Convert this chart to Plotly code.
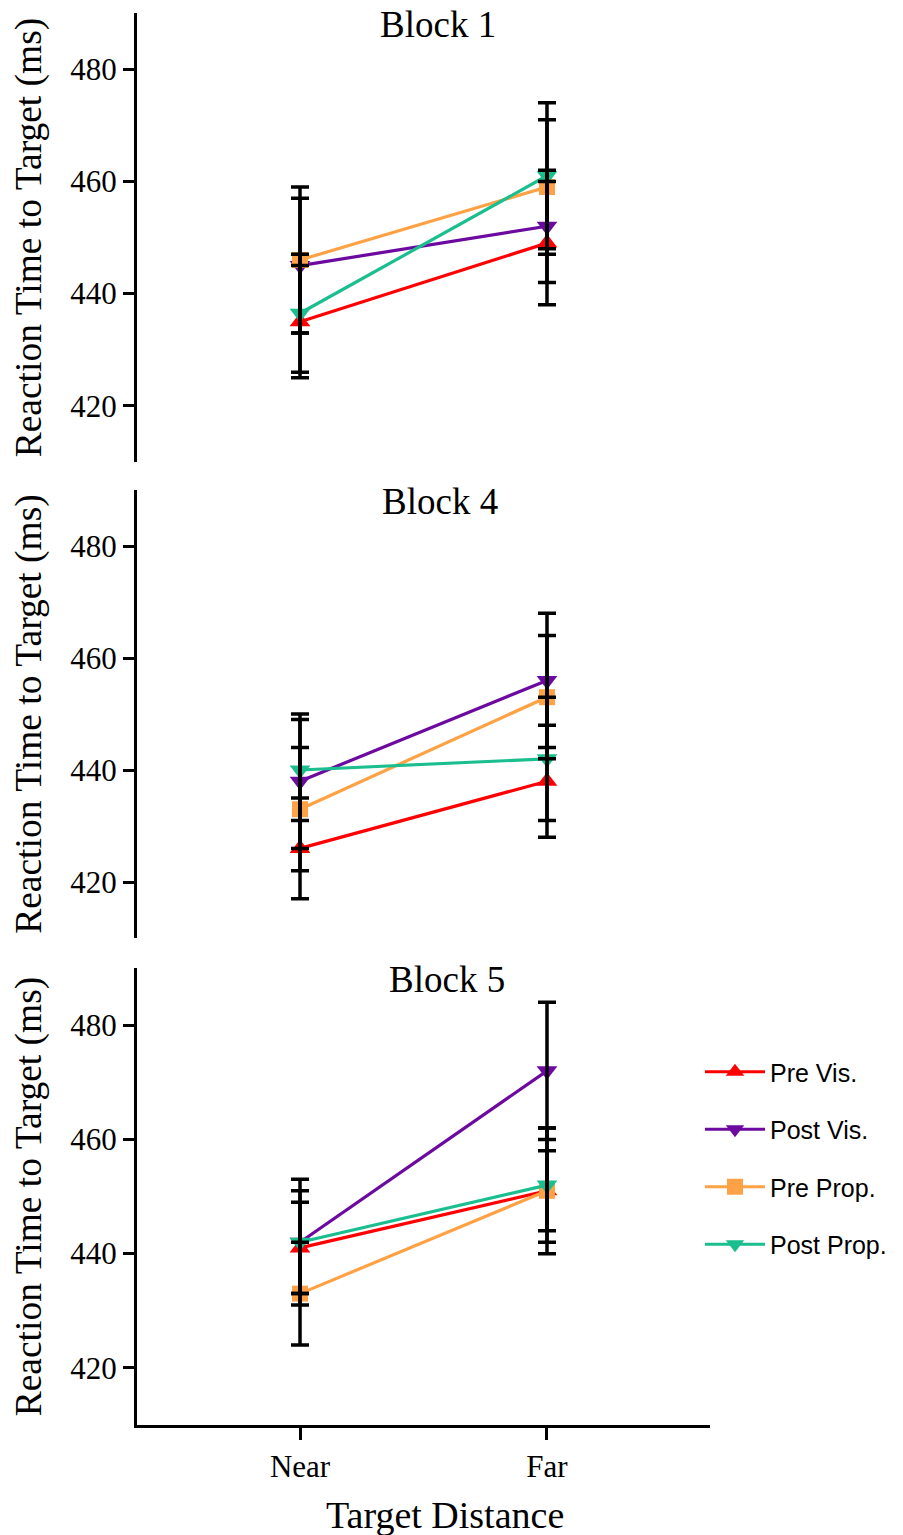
import plotly.graph_objects as go

distance = ["Near", "Far"]
conditions = ["Pre Vis.", "Post Vis.", "Pre Prop.", "Post Prop."]
blocks = ["Block 1", "Block 4", "Block 5"]

# means [Near, Far] and error (half-length) per condition, per block
b1_mean = {"Pre Vis.": [435, 449], "Post Vis.": [445, 452], "Pre Prop.": [446, 459], "Post Prop.": [436.5, 461]}
b1_err = {"Pre Vis.": [10, 11], "Post Vis.": [12, 10], "Pre Prop.": [13, 12], "Post Prop.": [10.5, 13]}
b4_mean = {"Pre Vis.": [426, 438], "Post Vis.": [438, 456], "Pre Prop.": [433, 453], "Post Prop.": [440, 442]}
b4_err = {"Pre Vis.": [9, 10], "Post Vis.": [12, 12], "Pre Prop.": [11, 11], "Post Prop.": [9, 11]}
b5_mean = {"Pre Vis.": [441, 451], "Post Vis.": [442, 472], "Pre Prop.": [433, 451], "Post Prop.": [442, 452]}
b5_err = {"Pre Vis.": [8, 7], "Post Vis.": [11, 12], "Pre Prop.": [9, 11], "Post Prop.": [9, 10]}

y_ticks = [420, 440, 460, 480]

colors = {"Pre Vis.": "#FF0000", "Post Vis.": "#6C0AA0", "Pre Prop.": "#FFA245", "Post Prop.": "#1BBE8E"}
symbols = {"Pre Vis.": "triangle-up", "Post Vis.": "triangle-down", "Pre Prop.": "square", "Post Prop.": "triangle-down"}
msize = {"Pre Vis.": 18, "Post Vis.": 18, "Pre Prop.": 16, "Post Prop.": 18}

means = [b1_mean, b4_mean, b5_mean]
errs = [b1_err, b4_err, b5_err]

# pixel layout helpers (plot area 137..710 x, 13..1425 y)
W, H = 903, 1535
ml, mr, mt, mb = 137, 193, 13, 110
ph = H - mt - mb
def py(p):
    return (H - mb - p) / ph
def px(p):
    return (p - ml) / (W - ml - mr)

domains = [[py(462), 1.0], [py(938), py(490)], [0.0, py(968)]]

fig = go.Figure()
serif = "Liberation Serif"

for i in range(3):
    xa = "x" if i == 0 else f"x{i+1}"
    ya = "y" if i == 0 else f"y{i+1}"
    for c in conditions:
        fig.add_trace(go.Scatter(
            x=distance, y=means[i][c], mode="lines+markers", name=c,
            line=dict(color=colors[c], width=3.2),
            marker=dict(symbol=symbols[c], size=msize[c], color=colors[c]),
            xaxis=xa, yaxis=ya, showlegend=(i == 0), legendgroup=c,
        ))
    for c in conditions:
        fig.add_trace(go.Scatter(
            x=distance, y=means[i][c], mode="markers",
            marker=dict(size=2, opacity=0),
            error_y=dict(type="data", array=errs[i][c], visible=True,
                         color="black", thickness=3.5, width=9),
            xaxis=xa, yaxis=ya, showlegend=False, hoverinfo="skip",
        ))

layout = dict(
    width=W, height=H, margin=dict(l=ml, r=mr, t=mt, b=mb, autoexpand=False),
    paper_bgcolor="white", plot_bgcolor="white",
    showlegend=True,
    legend=dict(x=px(700), y=py(1049), xanchor="left", yanchor="top",
                font=dict(family="Liberation Sans", size=25, color="black"),
                itemwidth=60,
                tracegroupgap=22, traceorder="grouped", bgcolor="rgba(0,0,0,0)"),
)

for i in range(3):
    xk = "xaxis" if i == 0 else f"xaxis{i+1}"
    yk = "yaxis" if i == 0 else f"yaxis{i+1}"
    last = (i == 2)
    layout[xk] = dict(
        domain=[0, 1], anchor="y" if i == 0 else f"y{i+1}",
        type="category", range=[-0.66, 1.66],
        showline=last, linecolor="black", linewidth=3,
        ticks="outside" if last else "", ticklen=12, tickwidth=3, tickcolor="black",
        showticklabels=last, showgrid=False, zeroline=False,
        tickfont=dict(family=serif, size=31, color="black"),
    )
    layout[yk] = dict(
        domain=domains[i], anchor="x" if i == 0 else f"x{i+1}",
        range=[410, 490], tickvals=y_ticks,
        showline=True, linecolor="black", linewidth=3,
        ticks="outside", ticklen=11, tickwidth=3, tickcolor="black",
        showgrid=False, zeroline=False,
        tickfont=dict(family=serif, size=31, color="black"),
        title=dict(text="Reaction Time to Target (ms)", standoff=18,
                   font=dict(family=serif, size=37.5, color="black")),
    )

fig.update_layout(**layout)

title_pos = [(px(438), py(24)), (px(440), py(501)), (px(447), py(979))]
for i, b in enumerate(blocks):
    fig.add_annotation(text=b, x=title_pos[i][0], y=title_pos[i][1], xref="paper", yref="paper",
                       xanchor="center", yanchor="middle", showarrow=False,
                       font=dict(family=serif, size=37, color="black"))

fig.add_annotation(text="Target Distance", x=px(445), y=py(1515), xref="paper", yref="paper",
                   xanchor="center", yanchor="middle", showarrow=False,
                   font=dict(family=serif, size=38, color="black"))

fig.write_html("out.html")
